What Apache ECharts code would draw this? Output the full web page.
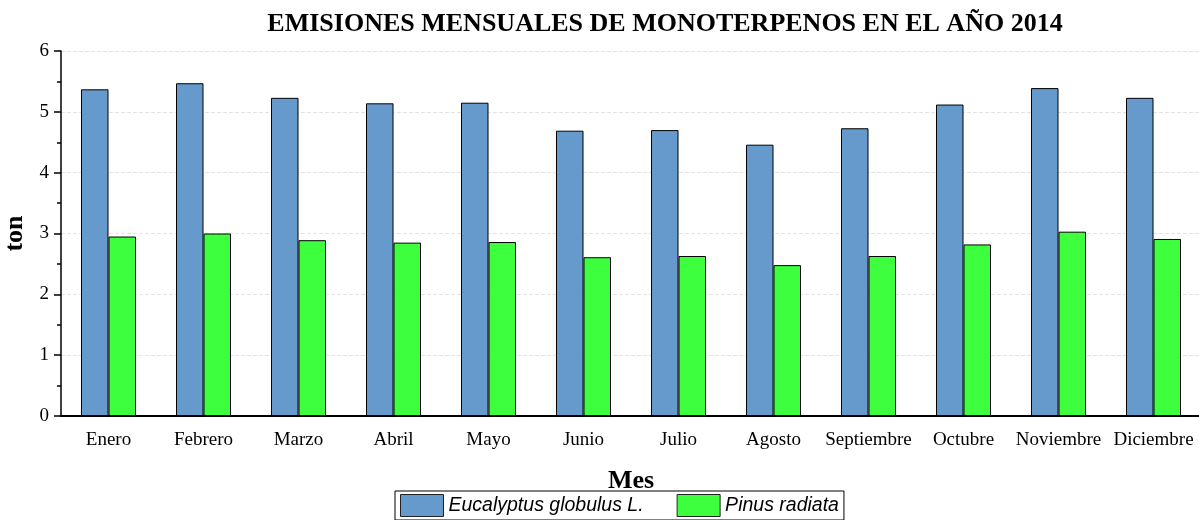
<!DOCTYPE html>
<html>
<head>
<meta charset="utf-8">
<script src="https://cdn.jsdelivr.net/npm/echarts@6/dist/echarts.min.js"></script>
<style>
  html, body { margin: 0; padding: 0; background: #fff; }
  #main { width: 1199px; height: 520px; }
</style>
</head>
<body>
<div id="main"></div>
<script>
// meses y emisiones (ton)
const meses = ['Enero', 'Febrero', 'Marzo', 'Abril', 'Mayo', 'Junio', 'Julio', 'Agosto', 'Septiembre', 'Octubre', 'Noviembre', 'Diciembre']
const eucalyptus = [5.37, 5.47, 5.23, 5.14, 5.15, 4.69, 4.70, 4.46, 4.73, 5.12, 5.39, 5.23]
const pinus = [2.95, 3.00, 2.89, 2.85, 2.86, 2.61, 2.63, 2.48, 2.63, 2.82, 3.03, 2.91]

let myChart = echarts.init(document.getElementById('main'))
let serif = 'Liberation Serif'
let option = {
  animation: false,
  title: {
    text: 'EMISIONES MENSUALES DE MONOTERPENOS EN EL AÑO 2014',
    left: 660,
    textAlign: 'center',
    top: 6,
    textStyle: { fontFamily: serif, fontWeight: 'bold', fontSize: 26, color: '#000' }
  },
  legend: {
    data: ['Eucalyptus globulus L.', 'Pinus radiata'],
    left: 395,
    top: 491,
    padding: [3, 5, 3, 5],
    itemGap: 33,
    itemWidth: 43,
    itemHeight: 22,
    icon: 'rect',
    itemStyle: { borderColor: '#222', borderWidth: 1 },
    borderColor: '#000',
    borderWidth: 1,
    borderRadius: 0,
    textStyle: { fontFamily: 'Liberation Sans', fontStyle: 'italic', fontSize: 19.5, color: '#000' }
  },
  grid: { left: 61, top: 51, width: 1140, height: 365, outerBoundsMode: 'none', containLabel: false },
  xAxis: [{
    type: 'category',
    data: meses,
    name: 'Mes',
    nameLocation: 'middle',
    nameGap: 52,
    nameTextStyle: { fontFamily: serif, fontWeight: 'bold', fontSize: 26, color: '#000' },
    axisLine: { lineStyle: { color: '#000', width: 2 } },
    axisTick: { alignWithLabel: true, length: 7, lineStyle: { color: '#000', width: 1.5 } },
    axisLabel: { fontFamily: serif, fontSize: 19, color: '#000', margin: 15, interval: 0 },
    splitLine: { show: false }
  }, {
    type: 'category',
    data: meses,
    position: 'bottom',
    axisLine: { show: false },
    axisTick: { length: 4, lineStyle: { color: '#000', width: 1.5 } },
    axisLabel: { show: false }
  }],
  yAxis: {
    type: 'value',
    min: 0,
    max: 6,
    interval: 1,
    name: 'ton',
    nameLocation: 'middle',
    nameGap: 25,
    nameTextStyle: { fontFamily: serif, fontWeight: 'bold', fontSize: 26, color: '#000' },
    axisLine: { show: true, lineStyle: { color: '#000', width: 1.5 } },
    axisTick: { show: true, length: 7, lineStyle: { color: '#000', width: 1.5 } },
    minorTick: { show: true, splitNumber: 2, length: 4, lineStyle: { color: '#000', width: 1.5 } },
    axisLabel: { fontFamily: serif, fontSize: 19, color: '#000', margin: 12 },
    splitLine: { show: true, lineStyle: { color: '#e2e2e2', type: 'dashed', width: 1 } }
  },
  series: [
    {
      name: 'Eucalyptus globulus L.',
      type: 'bar',
      data: eucalyptus,
      barWidth: 27.5,
      barGap: '0%',
      itemStyle: { color: '#6699cc', borderColor: '#000', borderWidth: 1 }
    },
    {
      name: 'Pinus radiata',
      type: 'bar',
      data: pinus,
      barWidth: 27.5,
      barGap: '0%',
      itemStyle: { color: '#3dff3d', borderColor: '#000', borderWidth: 1 }
    }
  ]
}
myChart.setOption(option)
</script>
</body>
</html>
